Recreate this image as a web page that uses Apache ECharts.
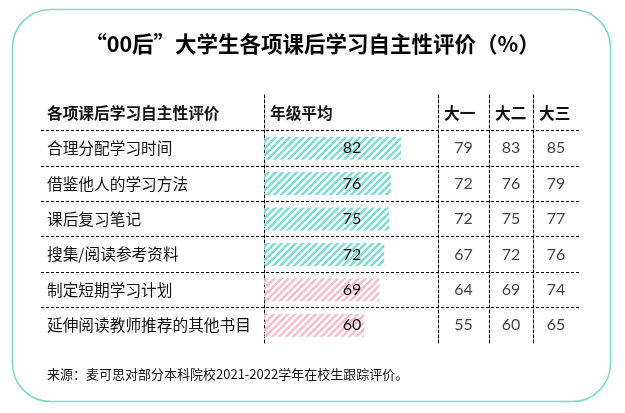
<!DOCTYPE html>
<html>
<head>
<meta charset="utf-8">
<script src="https://cdn.jsdelivr.net/npm/echarts@6/dist/echarts.min.js"></script>
<style>
html,body{margin:0;padding:0;background:#fff;}
#c{width:625px;height:413px;}
</style>
</head>
<body>
<div id="c"></div>
<script>
// ---- data ----
const titleText = '“00后”大学生各项课后学习自主性评价（%）';
const sourceText = '来源：麦可思对部分本科院校2021-2022学年在校生跟踪评价。';
const rowHeader = '各项课后学习自主性评价';
const avgHeader = '年级平均';
const categories = ['合理分配学习时间', '借鉴他人的学习方法', '课后复习笔记', '搜集/阅读参考资料', '制定短期学习计划', '延伸阅读教师推荐的其他书目'];
const avgValues = [82, 76, 75, 72, 69, 60];
const yearHeaders = ['大一', '大二', '大三'];
const year1Values = [79, 72, 72, 67, 64, 55];
const year2Values = [83, 76, 75, 72, 69, 60];
const year3Values = [85, 79, 77, 76, 74, 65];
const pinkFromIndex = 4;

// ---- styles ----
const TEAL = '#7fdcd3';
const PINK = '#f3bfca';
const CJK = '"Noto Sans CJK SC", sans-serif';
const NUM = 'Lato, "Noto Sans", sans-serif';
const dashed = {type: [3, 2], color: '#000', width: 1};

function hatch(color) {
  const s = 7;
  const cv = document.createElement('canvas');
  cv.width = s; cv.height = s;
  const ctx = cv.getContext('2d');
  ctx.strokeStyle = color;
  ctx.lineWidth = 2.6;
  ctx.beginPath();
  ctx.moveTo(-2, 2); ctx.lineTo(2, -2);
  ctx.moveTo(0, s); ctx.lineTo(s, 0);
  ctx.moveTo(s - 2, s + 2); ctx.lineTo(s + 2, s - 2);
  ctx.stroke();
  return {image: cv, repeat: 'repeat'};
}
const tealPat = hatch(TEAL);
const pinkPat = hatch(PINK);

const rows = [rowHeader].concat(categories);
const TOP = 95, H = 248;

const chart = echarts.init(document.getElementById('c'), null, {renderer: 'canvas'});

// column grids: [left, width]
const colGrids = [[438, 51], [489, 44], [533, 46]];
const colValues = [year1Values, year2Values, year3Values];

const grids = [
  {left: 41, top: TOP, width: 538, height: H, containLabel: false}, // table lines + row labels
  {left: 264, top: TOP, width: 167, height: H}                      // average bars
].concat(colGrids.map(g => ({left: g[0], top: TOP, width: g[1], height: H})));

const xAxes = [
  {gridIndex: 0, type: 'value', show: false, min: 0, max: 1},
  {gridIndex: 1, type: 'value', show: false, min: 0, max: 100}
].concat(colGrids.map((g, i) => ({gridIndex: i + 2, type: 'value', show: false, min: 0, max: 1})));

const yAxes = [
  {
    gridIndex: 0, type: 'category', inverse: true, data: rows.map((r, i) => i === 0 ? {value: r, textStyle: {fontWeight: 'bold'}} : r),
    axisLine: {show: false}, axisTick: {show: false},
    axisLabel: {inside: true, margin: 6, align: 'left', fontFamily: CJK, fontSize: 15.7, color: '#111'},
    splitLine: {show: true, showMinLine: false, showMaxLine: false, lineStyle: dashed}
  },
  {
    gridIndex: 1, type: 'category', inverse: true, data: rows,
    axisLine: {show: true, lineStyle: dashed}, axisTick: {show: false}, axisLabel: {show: false}, splitLine: {show: false}
  }
].concat(colGrids.map((g, i) => ({
  gridIndex: i + 2, type: 'category', inverse: true, data: rows,
  axisLine: {show: true, lineStyle: dashed}, axisTick: {show: false}, axisLabel: {show: false}, splitLine: {show: false}
})));

const series = [
  {
    type: 'bar', xAxisIndex: 1, yAxisIndex: 1, barWidth: 23, silent: true,
    data: ['-'].concat(avgValues.map((v, i) => ({value: v, itemStyle: {color: i >= pinkFromIndex ? pinkPat : tealPat}}))),
    label: {show: true, position: [88, '50%'], align: 'center', verticalAlign: 'middle', fontFamily: NUM, fontSize: 16, color: '#111'}
  }
].concat(colValues.map((vals, i) => ({
  type: 'scatter', xAxisIndex: i + 2, yAxisIndex: i + 2, symbolSize: 0, silent: true,
  data: vals.map((v, j) => ({value: [0.5, rows[j + 1]], label: {formatter: String(v)}})),
  label: {show: true, position: 'inside', fontFamily: NUM, fontSize: 16, color: '#111'}
})));

const headerStyle = {fontFamily: CJK, fontSize: 15.7, fontWeight: 'bold', fill: '#111'};
const headerCenterY = TOP + H / 14;
const headers = [{x: 270, t: avgHeader}].concat(colGrids.map((g, i) => ({x: g[0] + 6, t: yearHeaders[i]})));

chart.setOption({
  animation: false,
  title: [
    {text: titleText, left: 'center', top: 28, textStyle: {fontFamily: CJK, fontSize: 21.5, fontWeight: 'bold', color: '#000'}},
    {text: sourceText, left: 42, top: 363, textStyle: {fontFamily: CJK, fontSize: 13, fontWeight: 'normal', color: '#111'}}
  ],
  grid: grids,
  xAxis: xAxes,
  yAxis: yAxes,
  series: series,
  graphic: [
    {type: 'rect', shape: {x: 12.5, y: 9.5, width: 598, height: 392, r: 38}, style: {fill: 'none', stroke: '#7fd6cc', lineWidth: 1.5}, silent: true, z: -1}
  ].concat(headers.map(h => ({
    type: 'text', x: h.x, y: headerCenterY, silent: true,
    style: Object.assign({text: h.t, textVerticalAlign: 'middle', verticalAlign: 'middle', align: 'left'}, headerStyle)
  })))
});
</script>
</body>
</html>
